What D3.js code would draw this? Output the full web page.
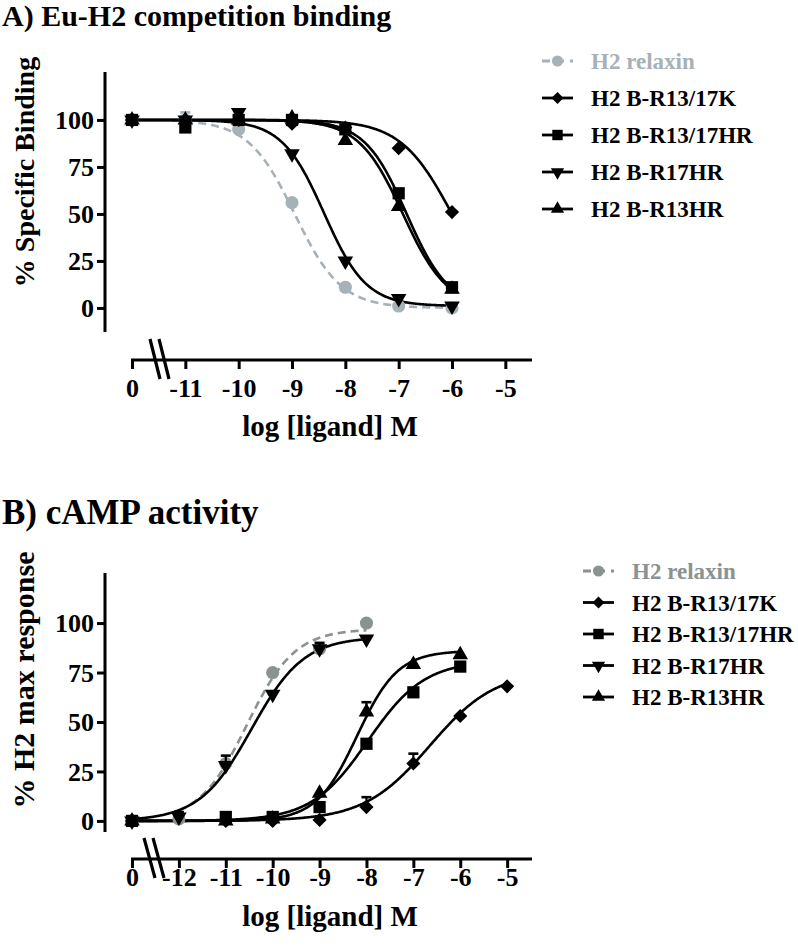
<!DOCTYPE html>
<html>
<head>
<meta charset="utf-8">
<script src="https://cdn.jsdelivr.net/npm/d3@7"></script>
<style>
  html, body { margin: 0; padding: 0; background: #fff; }
  svg { display: block; }
</style>
</head>
<body>
<svg id="chart" width="798" height="947"></svg>
<script>
// ---------------- DATA ----------------
const seriesNames = ["H2 relaxin", "H2 B-R13/17K", "H2 B-R13/17HR", "H2 B-R17HR", "H2 B-R13HR"];
const seriesSymbols = ["circle", "diamond", "square", "triangleDown", "triangleUp"];

// Panel A: Eu-H2 competition binding (0 = no ligand control)
const xTickValuesA = [0, -11, -10, -9, -8, -7, -6, -5];
const yTickValuesA = [0, 25, 50, 75, 100];
const doseA = [0, -11, -10, -9, -8, -7, -6];
const relaxinA   = [100, 100, 95, 56, 11, 1, 0];
const r1317K_A   = [100, 100, 100, 98, 96, 85, 51];
const r1317HR_A  = [100, 96, 100, 100, 95, 61, 11];
const r17HR_A    = [100, 100, 104, 82, 25, 5, 1];
const r13HR_A    = [100, 100, 100, 101, 89, 54, 10];
const errRelaxinA = [0, 4, 0, 0, 0, 0, 0];
// fitted one-site competition curves: [top, bottom, logEC50, hill, from, to]
const fitRelaxinA  = [100, 0, -8.95, 1.0, -11, -6];
const fitR1317K_A  = [100, 0, -6.0, 0.9, 0, -6];
const fitR1317HR_A = [100, 0, -6.85, 1.1, 0, -6];
const fitR17HR_A   = [100, 1, -8.4, 1.1, 0, -6];
const fitR13HR_A   = [100, 0, -6.92, 1.05, 0, -6];

// Panel B: cAMP activity
const xTickValuesB = [0, -12, -11, -10, -9, -8, -7, -6, -5];
const yTickValuesB = [0, 25, 50, 75, 100];
const doseB = [0, -12, -11, -10, -9, -8, -7, -6, -5];
const relaxinB  = [0, 1, 29, 75, 87, 100, null, null, null];
const r1317K_B  = [0, null, 0, 0, 0.5, 7, 29, 53, 68];
const r1317HR_B = [0, null, 2, 2, 7, 39, 65, 78, null];
const r17HR_B   = [0, 2, 28, 64, 87, 92, null, null, null];
const r13HR_B   = [0, null, 0, 1, 14, 55, 79, 84, null];
const errR1317K_B = [0, 0, 0, 0, 0, 5, 5, 0, 0];
const errR17HR_B  = [0, 2.5, 5, 0, 3, 0, 0, 0, 0];
const errR13HR_B  = [0, 0, 0, 0, 0, 5, 0, 0, 0];
// fitted dose-response curves: [top, bottom, logEC50, hill, from, to]
const fitRelaxinB  = [97, 0, -10.55, 0.85, -12, -8];
const fitR1317K_B  = [76, 0, -6.65, 0.62, 0, -5];
const fitR1317HR_B = [81, 0, -7.97, 0.72, 0, -6];
const fitR17HR_B   = [93, 0, -10.45, 0.78, 0, -8];
const fitR13HR_B   = [86, 0, -8.2, 1.0, 0, -6];

// ---------------- STYLE ----------------
const FONT = "'Liberation Serif', Tinos, 'Times New Roman', Times, 'DejaVu Serif', 'Noto Serif', serif";
const greyA = "#a6b1b8", greyB = "#8a9292", black = "#000";
const svg = d3.select("#chart").attr("font-family", FONT).attr("font-weight", "bold");

function symbolPath(kind) {
  const s = d3.symbol();
  if (kind === "circle") return s.type(d3.symbolCircle).size(135)();
  if (kind === "square") return s.type(d3.symbolSquare).size(150)();
  if (kind === "diamond") return s.type(d3.symbolSquare).size(100)();
  return s.type(d3.symbolTriangle).size(105)();
}
function symbolRotate(kind) {
  if (kind === "diamond") return 45;
  if (kind === "triangleDown") return 180;
  return 0;
}

function drawPanel(cfg) {
  const g = svg.append("g");
  const x = d3.scaleLinear().domain(cfg.xDomain).range([132, 532]);
  const y = d3.scaleLinear().domain(cfg.yDomain).range(cfg.yRange);
  const xPos = v => x(v === 0 ? cfg.controlAt : v);

  // title
  g.append("text").attr("x", 2).attr("y", cfg.titleY)
    .attr("font-size", cfg.titleSize).text(cfg.title);

  // y axis
  const yAxis = d3.axisLeft(y).tickValues(cfg.yTicks).tickSize(8).tickPadding(3).tickSizeOuter(0);
  const ga = g.append("g").attr("transform", "translate(105,0)").call(yAxis)
    .attr("font-family", FONT).attr("font-size", 26);
  ga.select(".domain").attr("d", `M0,${cfg.yRange[0]}V${cfg.yRange[1]}`);
  ga.selectAll("path,line").attr("stroke", black).attr("stroke-width", 3);
  ga.selectAll("text").attr("dy", "0.34em");

  g.append("text")
    .attr("transform", `translate(34,${cfg.yLabelY}) rotate(-90)`)
    .attr("text-anchor", "middle").attr("font-size", cfg.yLabelSize).text(cfg.yLabel);

  // x axis
  const xAxis = d3.axisBottom(x)
    .tickValues(cfg.xTicks.map(v => v === 0 ? cfg.controlAt : v))
    .tickFormat((d, i) => String(cfg.xTicks[i]))
    .tickSize(9).tickPadding(cfg.xTickPad).tickSizeOuter(0);
  const gx = g.append("g").attr("transform", `translate(0,${cfg.xAxisY})`).call(xAxis)
    .attr("font-family", FONT).attr("font-size", 26);
  gx.select(".domain").attr("d", "M131,0H532");
  gx.selectAll("path,line").attr("stroke", black).attr("stroke-width", 3);

  // axis break marks
  cfg.breakMarks.forEach(b => {
    g.append("line").attr("x1", b[0]).attr("y1", cfg.xAxisY - 21)
      .attr("x2", b[1]).attr("y2", cfg.xAxisY + 19)
      .attr("stroke", black).attr("stroke-width", 3.2);
  });

  g.append("text").attr("x", 330).attr("y", cfg.xLabelY).attr("text-anchor", "middle")
    .attr("font-size", 29).text("log [ligand] M");

  // curves
  cfg.series.forEach(s => {
    const [top, bottom, ec50, hill, from, to] = s.fit;
    const a = from === 0 ? cfg.controlAt : from;
    const pts = d3.range(a, to + 0.0001, 0.02).map(v => [v, bottom + (top - bottom) / (1 + Math.pow(10, cfg.sign * (v - ec50) * hill))]);
    g.append("path").datum(pts)
      .attr("fill", "none").attr("stroke", s.color).attr("stroke-width", 2.6)
      .attr("stroke-dasharray", s.dashed ? "8,5" : null)
      .attr("d", d3.line().x(d => x(d[0])).y(d => y(d[1])));
  });

  // error bars + markers
  cfg.series.forEach(s => {
    const pts = cfg.dose.map((d, i) => ({ d, v: s.values[i], e: s.err ? s.err[i] : 0 }))
      .filter(p => p.v !== null && p.v !== undefined);
    pts.filter(p => p.e > 0).forEach(p => {
      g.append("line").attr("x1", xPos(p.d)).attr("x2", xPos(p.d))
        .attr("y1", y(p.v)).attr("y2", y(p.v + p.e)).attr("stroke", s.color).attr("stroke-width", 2.2);
      g.append("line").attr("x1", xPos(p.d) - 5).attr("x2", xPos(p.d) + 5)
        .attr("y1", y(p.v + p.e)).attr("y2", y(p.v + p.e)).attr("stroke", s.color).attr("stroke-width", 2.6);
    });
    g.selectAll(null).data(pts).enter().append("path")
      .attr("d", symbolPath(s.symbol))
      .attr("transform", p => `translate(${xPos(p.d)},${y(p.v)}) rotate(${symbolRotate(s.symbol)})`)
      .attr("fill", s.color);
  });

  // legend
  cfg.series.forEach((s, i) => {
    const ly = cfg.legendY + i * cfg.legendStep;
    const lg = g.append("g");
    lg.append("line").attr("x1", cfg.legendX).attr("x2", cfg.legendX + 31)
      .attr("y1", ly).attr("y2", ly).attr("stroke", s.color).attr("stroke-width", 2.8)
      .attr("stroke-dasharray", s.dashed ? "8,6" : null);
    lg.append("path").attr("d", symbolPath(s.symbol))
      .attr("transform", `translate(${cfg.legendX + 15.5},${ly}) rotate(${symbolRotate(s.symbol)}) scale(0.85)`)
      .attr("fill", s.color);
    lg.append("text").attr("x", cfg.legendX + 49).attr("y", ly + 8)
      .attr("font-size", 23).attr("fill", s.color).text(s.name);
  });
}

drawPanel({
  title: "A) Eu-H2 competition binding", titleY: 26, titleSize: 30,
  yLabel: "% Specific Binding", yLabelY: 172, yLabelSize: 28,
  xDomain: [-12, -4.5], controlAt: -12,
  yDomain: [-12.8, 125.5], yRange: [332, 72],
  xTicks: xTickValuesA, yTicks: yTickValuesA,
  xAxisY: 360, xTickPad: 10, xLabelY: 436,
  breakMarks: [[150, 160], [159, 169]],
  dose: doseA, sign: 1,
  legendX: 542, legendY: 61, legendStep: 37,
  series: [
    { name: seriesNames[0], symbol: seriesSymbols[0], color: greyA, dashed: true, values: relaxinA, err: errRelaxinA, fit: fitRelaxinA },
    { name: seriesNames[1], symbol: seriesSymbols[1], color: black, values: r1317K_A, fit: fitR1317K_A },
    { name: seriesNames[2], symbol: seriesSymbols[2], color: black, values: r1317HR_A, fit: fitR1317HR_A },
    { name: seriesNames[3], symbol: seriesSymbols[3], color: black, values: r17HR_A, fit: fitR17HR_A },
    { name: seriesNames[4], symbol: seriesSymbols[4], color: black, values: r13HR_A, fit: fitR13HR_A }
  ]
});

drawPanel({
  title: "B) cAMP activity", titleY: 524, titleSize: 35,
  yLabel: "% H2 max response", yLabelY: 680, yLabelSize: 30,
  xDomain: [-13, -4.47], controlAt: -13,
  yDomain: [-5.6, 125.3], yRange: [832, 573],
  xTicks: xTickValuesB, yTicks: yTickValuesB,
  xAxisY: 859, xTickPad: 0, xLabelY: 926,
  breakMarks: [[144, 155], [153, 164]],
  dose: doseB, sign: -1,
  legendX: 583, legendY: 571, legendStep: 31.5,
  series: [
    { name: seriesNames[0], symbol: seriesSymbols[0], color: greyB, dashed: true, values: relaxinB, fit: fitRelaxinB },
    { name: seriesNames[1], symbol: seriesSymbols[1], color: black, values: r1317K_B, err: errR1317K_B, fit: fitR1317K_B },
    { name: seriesNames[2], symbol: seriesSymbols[2], color: black, values: r1317HR_B, fit: fitR1317HR_B },
    { name: seriesNames[3], symbol: seriesSymbols[3], color: black, values: r17HR_B, err: errR17HR_B, fit: fitR17HR_B },
    { name: seriesNames[4], symbol: seriesSymbols[4], color: black, values: r13HR_B, err: errR13HR_B, fit: fitR13HR_B }
  ]
});
</script>
</body>
</html>
